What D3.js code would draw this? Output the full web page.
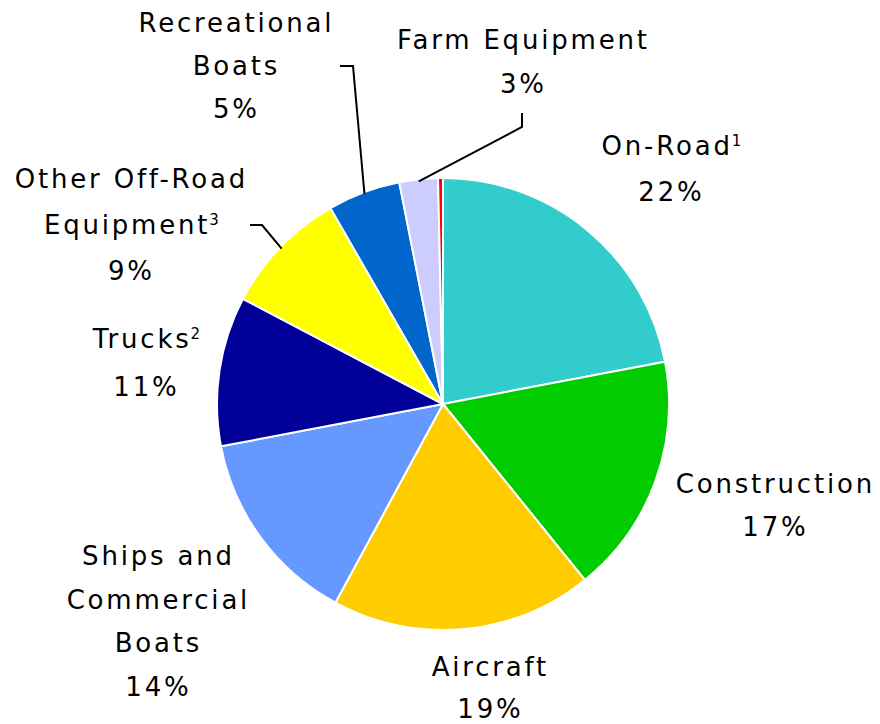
<!DOCTYPE html>
<html><head><meta charset="utf-8">
<script src="https://cdn.jsdelivr.net/npm/d3@7"></script>
<style>html,body{margin:0;padding:0;background:#fff;}</style>
</head><body>
<svg id="chart" width="880" height="724"></svg>
<script>
// Data
const categories = ["On-Road", "Construction", "Aircraft", "Ships and Commercial Boats", "Trucks", "Other Off-Road Equipment", "Recreational Boats", "Farm Equipment", "Other"];
const values = [22.0, 17.2, 18.7, 14.1, 10.7, 9.0, 5.2, 2.75, 0.35];
const percentLabels = ["22%", "17%", "19%", "14%", "11%", "9%", "5%", "3%", ""];
const footnotes = ["1", "", "", "", "2", "3", "", "", ""];
const colors = ["#33CCCC", "#00CC00", "#FFCC00", "#6699FF", "#000099", "#FFFF00", "#0066CC", "#CCCCFF", "#FF0000"];

// Layout (label text lines and anchors)
const labelLayout = {
  "On-Road": {lines:["On-Road"], x:670, y:155, step:46, sup:0},
  "Construction": {lines:["Construction"], x:774, y:493, step:43},
  "Aircraft": {lines:["Aircraft"], x:489, y:676, step:42},
  "Ships and Commercial Boats": {lines:["Ships and","Commercial","Boats"], x:157, y:565, step:43.5},
  "Trucks": {lines:["Trucks"], x:145, y:348, step:48, sup:0},
  "Other Off-Road Equipment": {lines:["Other Off-Road","Equipment"], x:130, y:188, step:46, sup:1},
  "Recreational Boats": {lines:["Recreational","Boats"], x:235, y:32, step:43},
  "Farm Equipment": {lines:["Farm Equipment"], x:522, y:49, step:44}
};

const cx = 443, cy = 404, R = 226;
const svg = d3.select("#chart");
const g = svg.append("g").attr("transform", `translate(${cx},${cy})`);

const data = categories.map((c,i)=>({cat:c, value:values[i], pct:percentLabels[i], sup:footnotes[i], color:colors[i]}));
const pie = d3.pie().value(d=>d.value).sort(null).startAngle(0).endAngle(2*Math.PI);
const arc = d3.arc().innerRadius(0).outerRadius(R);

g.selectAll("path").data(pie(data)).join("path")
  .attr("d", arc)
  .attr("fill", d=>d.data.color)
  .attr("stroke", "#fff")
  .attr("stroke-width", 2)
  .attr("stroke-linejoin", "round");

const leaders = {
  "Recreational Boats": [[340,66],[353,66]],
  "Farm Equipment": [[522,113],[522,127]],
  "Other Off-Road Equipment": [[250,225],[262,225]]
};
const pies = pie(data);
Object.keys(leaders).forEach(k=>{
  const p = pies.find(d=>d.data.cat===k);
  const a = (p.startAngle+p.endAngle)/2;
  const edge = [cx + Math.sin(a)*(R-2), cy - Math.cos(a)*(R-2)];
  const pts = leaders[k].concat([edge]);
  svg.append("path")
    .attr("d", d3.line()(pts))
    .attr("fill","none").attr("stroke","#000").attr("stroke-width",2);
});

const font = "'DejaVu Sans', Verdana, sans-serif";
const LS = 2.8;
data.forEach(d=>{
  const L = labelLayout[d.cat];
  if(!L) return;
  const lines = L.lines.concat([d.pct]);
  lines.forEach((ln,i)=>{
    const t = svg.append("text")
      .attr("x", L.x + LS/2).attr("y", L.y + i*L.step)
      .attr("text-anchor","middle")
      .attr("font-family", font).attr("font-size", 26)
      .attr("letter-spacing", LS)
      .attr("fill","#000");
    t.append("tspan").text(ln);
    if(d.sup && L.sup===i){
      t.append("tspan").text(d.sup).attr("font-size",15).attr("dy",-9).attr("dx",-1).attr("letter-spacing",0);
    }
  });
});
</script>
</body></html>
